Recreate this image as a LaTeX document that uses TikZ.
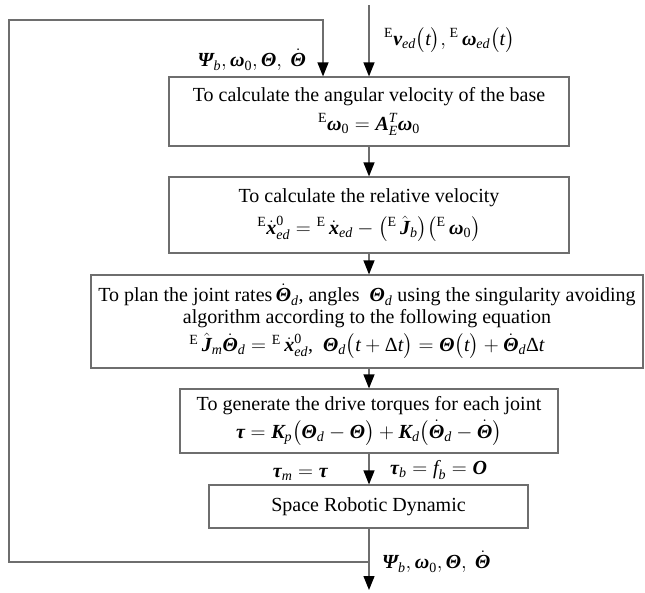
\documentclass[tikz,border=0pt]{standalone}
\usepackage{fontspec}
\usepackage{amsmath}
\setmainfont{Liberation Serif}
\usetikzlibrary{arrows.meta}
\newcommand{\Bi}[1]{\text{\bfseries\itshape #1}}
\newcommand{\Ii}[1]{\text{\normalfont\itshape #1}}
\newcommand{\Rr}[1]{\text{\normalfont #1}}
\definecolor{lg}{HTML}{6E6E6E}
\begin{document}
\begin{tikzpicture}[x=1pt,y=-1pt,
  font=\fontsize{20}{22}\selectfont,
  box/.style={draw=lg, line width=1.2pt, align=center, inner sep=0pt},
  conn/.style={draw=lg, line width=1.2pt},
  arr/.style={conn, -{Triangle[width=11pt,length=14pt,fill=black,color=black]}},
  lbl/.style={inner sep=0pt}]
\useasboundingbox (0,0) rectangle (645,592);

\node[box, minimum width=400pt, minimum height=69pt] (b1) at (369,111.5)
  {To calculate the angular velocity of the base\\[7pt]
   ${}^{\Rr{E}}\Bi{ω}_{\Rr{0}} = \Bi{A}_{\Ii{E}}^{\Ii{T}}\Bi{ω}_{\Rr{0}}$};

\node[box, minimum width=400pt, minimum height=76pt] (b2) at (369,215)
  {To calculate the relative velocity\\[8pt]
   ${}^{\Rr{E}}\dot{\Bi{x}}^{\Rr{0}}_{\Ii{ed}} ={}^{\Rr{E}}\,\dot{\Bi{x}}_{\Ii{ed}} - \bigl({}^{\Rr{E}}\,\hat{\Bi{J}}_{\Ii{b}}\bigr)\bigl({}^{\Rr{E}}\,\Bi{ω}_{\Rr{0}}\bigr)$};

\node[box, minimum width=552pt, minimum height=93pt] (b3) at (367,321.5)
  {To plan the joint rates\,$\dot{\Bi{Θ}}_{\Ii{d}}$, angles \ $\Bi{Θ}_{\Ii{d}}$ using the singularity avoiding\\[0pt]
   algorithm according to the following equation\\[4pt]
   ${}^{\Rr{E}}\,\hat{\Bi{J}}_{\Ii{m}}\dot{\Bi{Θ}}_{\Ii{d}} ={}^{\Rr{E}}\,\dot{\Bi{x}}^{\Rr{0}}_{\Ii{ed}}$, \ $\Bi{Θ}_{\Ii{d}}\bigl(\Ii{t}+\Rr{Δ}\Ii{t}\bigr)=\Bi{Θ}\bigl(\Ii{t}\bigr)+\dot{\Bi{Θ}}_{\Ii{d}}\Rr{Δ}\Ii{t}$};

\node[box, minimum width=378pt, minimum height=64pt] (b4) at (369,421)
  {To generate the drive torques for each joint\\[4pt]
   $\Bi{τ}=\Bi{K}_{\Ii{p}}\bigl(\Bi{Θ}_{\Ii{d}}-\Bi{Θ}\bigr)+\Bi{K}_{\Ii{d}}\bigl(\dot{\Bi{Θ}}_{\Ii{d}}-\dot{\Bi{Θ}}\bigr)$};

\node[box, minimum width=319pt, minimum height=43pt] (b5) at (368.5,506.5)
  {Space Robotic Dynamic};

% connectors
\coordinate (in) at (369,5);
\coordinate (out) at (369,590);
\coordinate (J) at (369,562);
\coordinate (fbBL) at (9,562);
\coordinate (fbTL) at (9,20);
\coordinate (fbTR) at (323,20);

\draw[arr] (in) -- (in |- b1.north);
\draw[arr] (b1.south -| in) -- (b2.north -| in);
\draw[arr] (b2.south -| in) -- (b3.north -| in);
\draw[arr] (b3.south -| in) -- (b4.north -| in);
\draw[arr] (b4.south -| in) -- (b5.north -| in);
\draw[arr] (b5.south -| in) -- (out);
\draw[arr] (J) -- (fbBL) -- (fbTL) -- (fbTR) -- (fbTR |- b1.north);

% labels
\node[lbl, anchor=west] (lin) at (384,40)
  {${}^{\Rr{E}}\Bi{v}_{\Ii{ed}}\bigl(\Ii{t}\bigr),{}^{\Rr{E}}\,\Bi{ω}_{\Ii{ed}}\bigl(\Ii{t}\bigr)$};
\node[lbl, anchor=east] (lfb) at (306,60)
  {$\Bi{Ψ}_{\Ii{b}},\Bi{ω}_{\Rr{0}},\Bi{Θ},\ \dot{\Bi{Θ}}$};
\node[lbl, anchor=east] (ltm) at (328,474)
  {$\Bi{τ}_{\Ii{m}}=\Bi{τ}$};
\node[lbl, anchor=west] (ltb) at (390,470)
  {$\Bi{τ}_{\Ii{b}}=\Ii{f}_{\Ii{b}}=\Bi{O}$};
\node[lbl, anchor=west] (lout) at (382,562)
  {$\Bi{Ψ}_{\Ii{b}},\Bi{ω}_{\Rr{0}},\Bi{Θ},\ \dot{\Bi{Θ}}$};
\end{tikzpicture}
\end{document}
